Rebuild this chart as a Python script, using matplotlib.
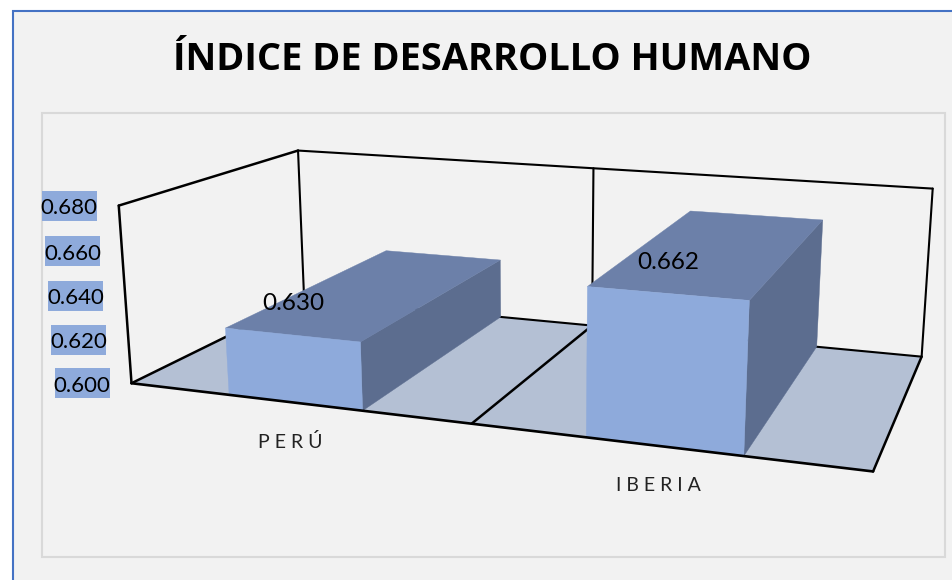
import numpy as np
import matplotlib
matplotlib.use("Agg")
import matplotlib.pyplot as plt
from matplotlib.patches import Polygon, Rectangle

title = "ÍNDICE DE DESARROLLO HUMANO"
categories = ["P E R Ú", "I B E R I A"]
values = [0.630, 0.662]
value_labels = ["0.630", "0.662"]
ticks = [0.600, 0.620, 0.640, 0.660, 0.680]
tick_labels = ["0.600", "0.620", "0.640", "0.660", "0.680"]

VMIN, VMAX = ticks[0], ticks[-1]
BAR_W = 0.393

# Camera calibration: (category x, depth z, height y) -> pixel of the plot box corners
calib_3d = [(0,0,0),(2,0,0),(2,1,0),(0,1,0),(0,0,1),(0,1,1),(2,1,1),(1,1,1),(1,0,0),(1,1,0)]
calib_px = [(131,383),(873,472),(921,357),(304,298),(119,206),(298,151),(933,188),(593,168),(472,423),(593,326)]

A = []
for (X, Z, Y), (u, v) in zip(calib_3d, calib_px):
    A.append([X, Y, Z, 1, 0, 0, 0, 0, -u*X, -u*Y, -u*Z, -u])
    A.append([0, 0, 0, 0, X, Y, Z, 1, -v*X, -v*Y, -v*Z, -v])
P = np.linalg.svd(np.array(A, float))[2][-1].reshape(3, 4)


def proj(x, z, val):
    y = (val - VMIN) / (VMAX - VMIN)
    h = P @ np.array([x, y, z, 1.0])
    return h[0] / h[2], h[1] / h[2]


BG = "#f2f2f2"
FRONT = "#8eaadb"
TOP = "#6c80a9"
SIDE = "#5c6d8f"
FLOOR = "#b4c0d4"
TICKBG = "#8eaadb"
FONT = "Lato"

fig = plt.figure(figsize=(9.52, 5.8), dpi=100, facecolor="white")
ax = fig.add_axes([0, 0, 1, 1])
ax.set_xlim(0, 952)
ax.set_ylim(580, 0)
ax.axis("off")

# outer chart area and inner plot frame
ax.add_patch(Rectangle((13, 11), 960, 600, fc=BG, ec="#4472c4", lw=1.5, zorder=0))
ax.add_patch(Rectangle((42, 113), 903, 444, fc=BG, ec="#d9d9d9", lw=1.5, zorder=1))

# floor
ax.add_patch(Polygon([proj(0,0,VMIN), proj(2,0,VMIN), proj(2,1,VMIN), proj(0,1,VMIN)],
                     closed=True, fc=FLOOR, ec="none", zorder=2))


def seg(a, b, lw, z=3):
    pa, pb = proj(*a), proj(*b)
    ax.plot([pa[0], pb[0]], [pa[1], pb[1]], color="black", lw=lw, zorder=z,
            solid_capstyle="round")


seg((0,0,VMIN), (0,0,VMAX), 1.8)
seg((0,0,VMAX), (0,1,VMAX), 1.8)
seg((0,1,VMIN), (0,1,VMAX), 1.5)
seg((0,1,VMAX), (2,1,VMAX), 1.5)
seg((2,1,VMIN), (2,1,VMAX), 1.5)
seg((0,1,VMIN), (2,1,VMIN), 1.5)
seg((0,0,VMIN), (0,1,VMIN), 1.8)
seg((2,0,VMIN), (2,1,VMIN), 1.8)
seg((1,1,VMIN), (1,1,VMAX), 1.5)
seg((1,0,VMIN), (1,1,VMIN), 1.8)

# bars
for i, val in enumerate(values):
    x0, x1 = i + 0.5 - BAR_W/2, i + 0.5 + BAR_W/2
    ax.add_patch(Polygon([proj(x1,0,VMIN), proj(x1,1,VMIN), proj(x1,1,val), proj(x1,0,val)],
                         closed=True, fc=SIDE, ec=SIDE, lw=0.3, zorder=4))
    ax.add_patch(Polygon([proj(x0,0,val), proj(x1,0,val), proj(x1,1,val), proj(x0,1,val)],
                         closed=True, fc=TOP, ec=TOP, lw=0.3, zorder=4))
    ax.add_patch(Polygon([proj(x0,0,VMIN), proj(x1,0,VMIN), proj(x1,0,val), proj(x0,0,val)],
                         closed=True, fc=FRONT, ec=FRONT, lw=0.3, zorder=5))

seg((0,0,VMIN), (2,0,VMIN), 1.9, z=6)

# value labels
for i, (val, lab) in enumerate(zip(values, value_labels)):
    px, py = proj(i + 0.5, 0, val)
    ax.text(px + 1, py - 31, lab, ha="center", va="center", fontsize=17.5, family=FONT,
            color="black", zorder=7)

# category labels
for i, lab in enumerate(categories):
    px, py = proj(i + 0.5, 0, VMIN)
    ax.text(px - 5, py + 39, lab, ha="center", va="center", fontsize=14, family=FONT,
            color="#222222", zorder=7)

# value axis labels
for t, lab in zip(ticks, tick_labels):
    px, py = proj(0, 0, t)
    ax.add_patch(Rectangle((px - 77, py - 15), 55, 30, fc=TICKBG, ec="none", zorder=6))
    ax.text(px - 49.5, py + 2.5, lab, ha="center", va="center", fontsize=16, family=FONT,
            color="black", zorder=7)

ax.text(492, 60, title, ha="center", va="center", fontsize=27.4, family="Open Sans",
        fontweight="bold", color="black", zorder=7)

fig.savefig("out.png", dpi=100, facecolor="white")
